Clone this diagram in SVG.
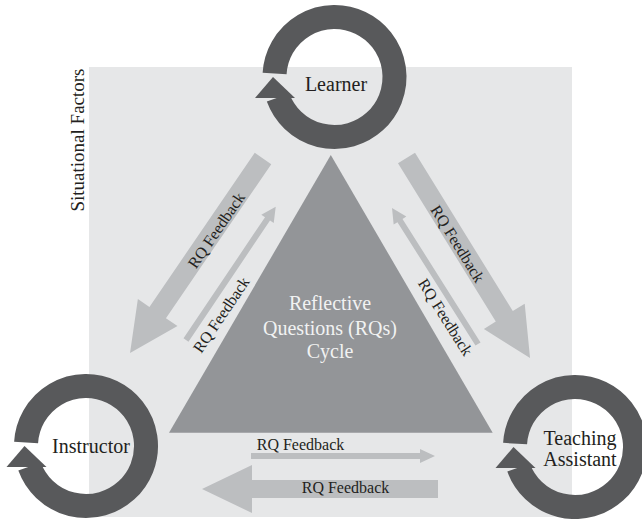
<svg xmlns="http://www.w3.org/2000/svg" xmlns:xlink="http://www.w3.org/1999/xlink" width="642" height="519" viewBox="0 0 642 519">
<style>
text{font-family:"Liberation Serif","Times New Roman",Tinos,"DejaVu Serif","Noto Serif",serif}
.t{fill:#231f20}
.lbl{font-size:20px;text-anchor:middle}
.fb{font-size:16px;text-anchor:middle}
.ctr{font-size:20px;fill:#f1f2f2;text-anchor:middle}
.arr{fill:#bcbec0}
.ring{fill:none;stroke:#58595b;stroke-width:24}
.head{fill:#58595b}
</style>
<defs>
<g id="ring">
<path class="ring" d="M -59.9 -3.45 A 60 60 0 1 1 -56.4 20.5"/>
<polygon class="head" points="-61.5,0 -39.5,21 -79.5,21"/>
</g>
</defs>
<rect x="89" y="67" width="483" height="450" fill="#e6e7e8"/>
<text class="t" transform="translate(84,140) rotate(-90)" font-size="19" text-anchor="middle" font-family="Liberation Serif, serif">Situational Factors</text>
<g id="cycle">
<polygon points="330.8,155 492.7,432.7 169,432.7" fill="#939598"/>
<text class="ctr" x="330" y="310">Reflective</text>
<text class="ctr" x="330" y="335">Questions (RQs)</text>
<text class="ctr" x="330" y="358">Cycle</text>
</g>
<g id="connectors">
<g transform="translate(263,158.5) rotate(124.36)"><polygon class="arr" points="0,-10 186.6,-10 186.6,-24 235.6,0 186.6,24 186.6,10 0,10"/></g>
<g transform="translate(406.5,158) rotate(58.3)"><polygon class="arr" points="0,-10 186.1,-10 186.1,-24 235.1,0 186.1,24 186.1,10 0,10"/></g>
<g transform="translate(186,340) rotate(-56.06)"><polygon class="arr" points="0,-3 146,-3 146,-7.5 160.7,0 146,7.5 146,3 0,3"/></g>
<g transform="translate(478,344) rotate(237.7)"><polygon class="arr" points="0,-3 146,-3 146,-7.5 160.9,0 146,7.5 146,3 0,3"/></g>
<polygon class="arr" points="251,453 420,453 420,449 435,456 420,463 420,459 251,459"/>
<polygon class="arr" points="438,480 252,480 252,465 202,489 252,513 252,498 438,498"/>
<text class="t fb" transform="translate(216.7,230.5) rotate(-55.6)" y="5">RQ Feedback</text>
<text class="t fb" transform="translate(221.7,315) rotate(-56)" y="5">RQ Feedback</text>
<text class="t fb" transform="translate(457.3,244) rotate(58.3)" y="5">RQ Feedback</text>
<text class="t fb" transform="translate(445,317.3) rotate(57.7)" y="5">RQ Feedback</text>
<text class="t fb" x="300.5" y="450">RQ Feedback</text>
<text class="t fb" x="345.5" y="493">RQ Feedback</text>
</g>
<g id="learner">
<use xlink:href="#ring" transform="translate(334.5,77)"/>
<text class="t lbl" x="336" y="91">Learner</text>
</g>
<g id="instructor">
<use xlink:href="#ring" transform="translate(86,446)"/>
<text class="t lbl" x="91" y="453">Instructor</text>
</g>
<g id="teaching-assistant">
<use xlink:href="#ring" transform="translate(575,447)"/>
<text class="t lbl" x="580" y="445">Teaching</text>
<text class="t lbl" x="580" y="466">Assistant</text>
</g>
</svg>
